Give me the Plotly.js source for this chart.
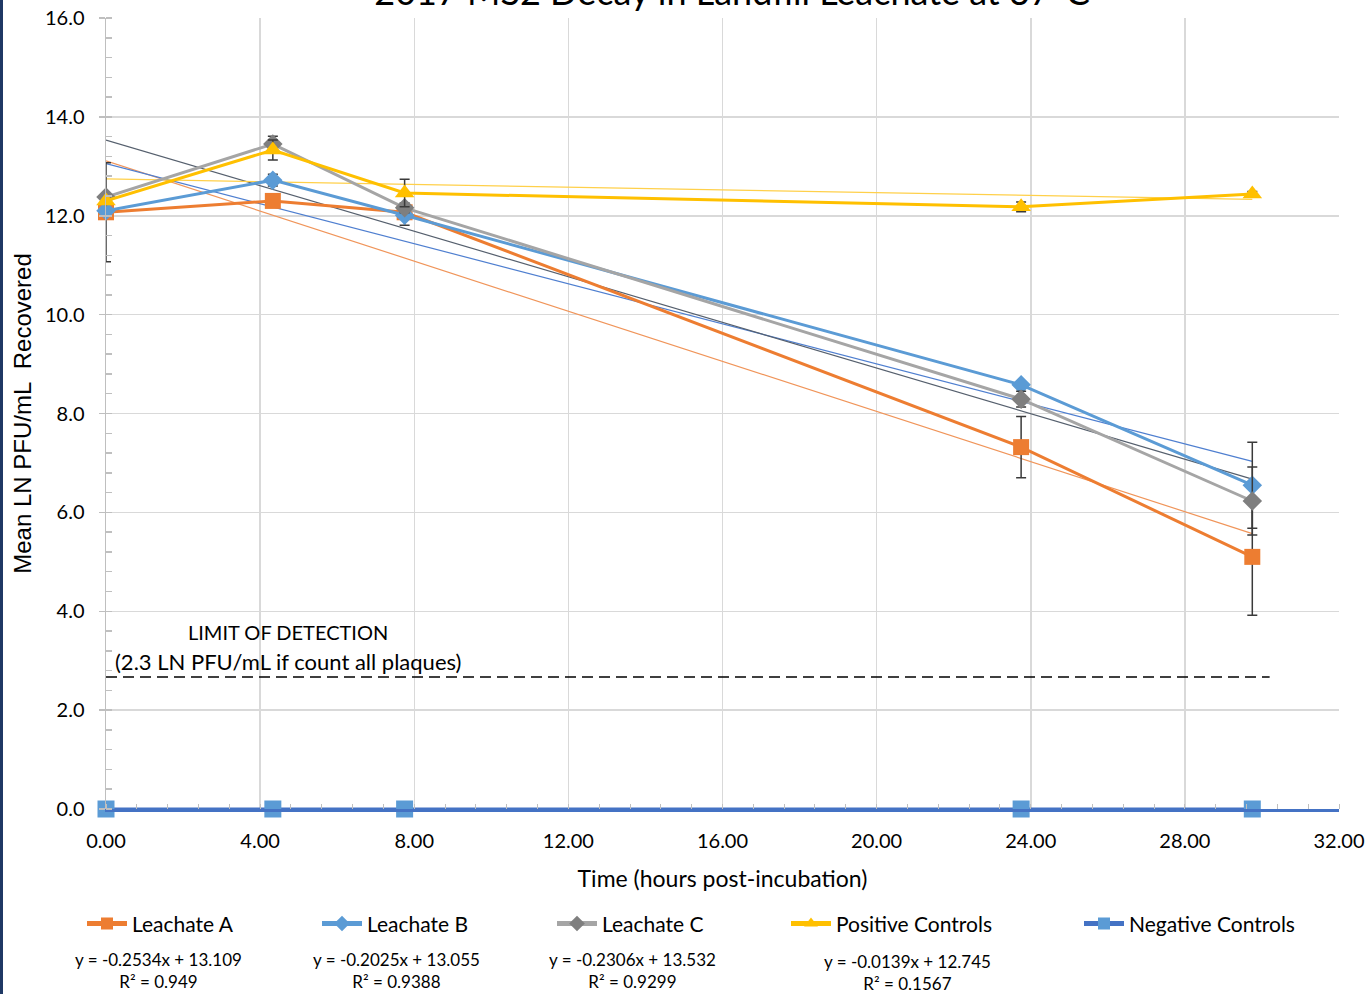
<!DOCTYPE html>
<html>
<head>
<meta charset="utf-8">
<script src="https://cdn.plot.ly/plotly-3.0.1.min.js"></script>
<style>
  html, body { margin: 0; padding: 0; background: #ffffff; }
  #chart { width: 1370px; height: 994px; }
  #edge { position: absolute; left: 0; top: 0; width: 3px; height: 994px; background: #1f3864; }
</style>
</head>
<body>
<div id="chart"></div>
<div id="edge"></div>
<script>
// ---- data ----
const times = [0, 4.33, 7.75, 23.75, 29.75];

const leachateA = [12.07, 12.30, 12.07, 7.32, 5.10];
const leachateB = [12.10, 12.72, 12.01, 8.58, 6.55];
const leachateC = [12.38, 13.45, 12.16, 8.29, 6.23];
const positiveControls = [12.30, 13.33, 12.46, 12.18, 12.44];
const negativeControls = [0, 0, 0, 0, 0];

const errA = [1.00, 0.05, 0.10, 0.62, 1.18];
const errB = [0.05, 0.12, 0.20, 0.05, 0.87];
const errC = [0.05, 0.16, 0.10, 0.16, 0.69];
const errPos = [0.05, 0.20, 0.28, 0.10, 0.05];

const seriesNames = ["Leachate A", "Leachate B", "Leachate C", "Positive Controls", "Negative Controls"];
const trendSlopes = [-0.2534, -0.2025, -0.2306, -0.0139];
const trendIntercepts = [13.109, 13.055, 13.532, 12.745];
const trendLabels = [
  "y = -0.2534x + 13.109<br>R² = 0.949",
  "y = -0.2025x + 13.055<br>R² = 0.9388",
  "y = -0.2306x + 13.532<br>R² = 0.9299",
  "y = -0.0139x + 12.745<br>R² = 0.1567"
];
const detectionLimit = 2.67;
const xTickVals = [0, 4, 8, 12, 16, 20, 24, 28, 32];
const yTickVals = [0, 2, 4, 6, 8, 10, 12, 14, 16];

// ---- styling ----
const FONT = "Lato, 'Open Sans', sans-serif";
const errStyle = (arr) => ({type: 'data', array: arr, visible: true, color: '#3a3a3a', thickness: 1.5, width: 5});

const tStart = times[0], tEnd = times[times.length - 1];
const trendColors = ['#f0955a', '#4f7fd0', '#56606e', '#ffd04a'];

const traces = [];
for (let i = 0; i < 4; i++) {
  traces.push({
    x: [tStart, tEnd],
    y: [trendSlopes[i] * tStart + trendIntercepts[i], trendSlopes[i] * tEnd + trendIntercepts[i]],
    mode: 'lines', type: 'scatter', showlegend: false, hoverinfo: 'skip',
    line: {color: trendColors[i], width: 1.2}
  });
}

traces.push({
  x: times, y: leachateA, name: seriesNames[0], type: 'scatter', mode: 'lines+markers',
  line: {color: '#ed7d31', width: 3}, marker: {symbol: 'square', size: 16, color: '#ed7d31'},
  error_y: errStyle(errA), cliponaxis: false, legend: 'legend'
});
traces.push({
  x: times, y: leachateB, name: seriesNames[1], type: 'scatter', mode: 'lines+markers',
  line: {color: '#5b9bd5', width: 3}, marker: {symbol: 'diamond', size: 15, color: '#5b9bd5'},
  error_y: errStyle(errB), cliponaxis: false, legend: 'legend2'
});
traces.push({
  x: times, y: leachateC, name: seriesNames[2], type: 'scatter', mode: 'lines+markers',
  line: {color: '#a5a5a5', width: 3}, marker: {symbol: 'diamond', size: 15, color: '#7f7f7f'},
  error_y: errStyle(errC), cliponaxis: false, legend: 'legend3'
});
traces.push({
  x: times, y: positiveControls, name: seriesNames[3], type: 'scatter', mode: 'lines+markers',
  line: {color: '#ffc000', width: 3}, marker: {symbol: 'triangle-up', size: 17, color: '#ffc000'},
  error_y: errStyle(errPos), cliponaxis: false, legend: 'legend4'
});
traces.push({
  x: times, y: negativeControls, name: seriesNames[4], type: 'scatter', mode: 'lines+markers',
  line: {color: '#4472c4', width: 3}, marker: {symbol: 'square', size: 17, color: '#5b9bd5'},
  cliponaxis: false, legend: 'legend5'
});
traces.push({
  x: [0, 30.2], y: [detectionLimit, detectionLimit], type: 'scatter', mode: 'lines',
  line: {color: '#000000', width: 1.6, dash: '11px,6px'}, showlegend: false, hoverinfo: 'skip'
});

const legendBase = (xpx) => ({
  x: xpx / 1370, xref: 'container', y: 0.0705, yref: 'container', xanchor: 'left', yanchor: 'middle',
  orientation: 'h', bgcolor: 'rgba(0,0,0,0)', itemwidth: 40, itemsizing: 'constant',
  font: {family: FONT, size: 21, color: '#000000'}, tracegroupgap: 0
});

const annotations = [];
const eqCenters = [158, 396, 632, 907];
const eqY = [970, 970, 970, 972];
for (let i = 0; i < 4; i++) {
  annotations.push({
    xref: 'paper', yref: 'paper', xanchor: 'center', yanchor: 'middle',
    x: (eqCenters[i] - 106) / 1233, y: (809 - eqY[i]) / 791,
    text: trendLabels[i], showarrow: false, align: 'center',
    font: {family: FONT, size: 17, color: '#000000'}
  });
}
annotations.push({
  xref: 'x', yref: 'y', xanchor: 'center', yanchor: 'middle', x: 4.73, y: 3.58,
  text: 'LIMIT OF DETECTION', showarrow: false,
  font: {family: FONT, size: 20, color: '#000000'}
});
annotations.push({
  xref: 'x', yref: 'y', xanchor: 'center', yanchor: 'middle', x: 4.73, y: 2.99,
  text: '(2.3 LN PFU/mL if count all plaques)', showarrow: false,
  font: {family: FONT, size: 22, color: '#000000'}
});

const layout = {
  width: 1370, height: 994,
  margin: {l: 106, r: 31, t: 18, b: 185},
  paper_bgcolor: '#ffffff', plot_bgcolor: '#ffffff',
  font: {family: FONT, color: '#000000'},
  title: {
    text: '2017 MS2 Decay in Landfill Leachate at 37°C',
    x: 732 / 1370, xanchor: 'center', xref: 'container',
    y: 0.995, yref: 'container', yanchor: 'bottom', pad: {t: 0, b: 0, l: 0, r: 0},
    font: {family: FONT, size: 36, color: '#000000'}
  },
  xaxis: {
    range: [0, 32], tickvals: xTickVals, tickformat: '.2f',
    showgrid: true, gridcolor: '#d9d9d9', gridwidth: 1.5,
    zeroline: false, showline: true, linecolor: '#4472c4', linewidth: 3,
    ticks: '', ticklabelstandoff: 12, tickfont: {family: FONT, size: 20, color: '#000000'},
    minor: {dtick: 0.8, ticks: 'inside', ticklen: 5, tickcolor: '#bfbfbf', showgrid: false},
    title: {text: 'Time (hours post-incubation)', font: {family: FONT, size: 23, color: '#000000'}, standoff: 20}
  },
  yaxis: {
    range: [0, 16], tickvals: yTickVals, tickformat: '.1f',
    showgrid: true, gridcolor: '#d9d9d9', gridwidth: 1.5,
    zeroline: false, showline: true, linecolor: '#bfbfbf', linewidth: 1.5,
    ticks: 'outside', ticklen: 6, tickcolor: '#bfbfbf', tickwidth: 1.5, ticklabelstandoff: 10,
    tickfont: {family: FONT, size: 20, color: '#000000'},
    minor: {dtick: 0.4, ticks: 'inside', ticklen: 6, tickcolor: '#bfbfbf', showgrid: false},
    title: {text: 'Mean LN PFU/mL  Recovered', font: {family: "'Liberation Sans', Arial, sans-serif", size: 24, color: '#000000'}, standoff: 6}
  },
  legend: legendBase(82),
  legend2: legendBase(317),
  legend3: legendBase(552),
  legend4: legendBase(786),
  legend5: legendBase(1079),
  annotations: annotations,
  showlegend: true
};

Plotly.newPlot('chart', traces, layout, {displayModeBar: false, staticPlot: true});
</script>
</body>
</html>
